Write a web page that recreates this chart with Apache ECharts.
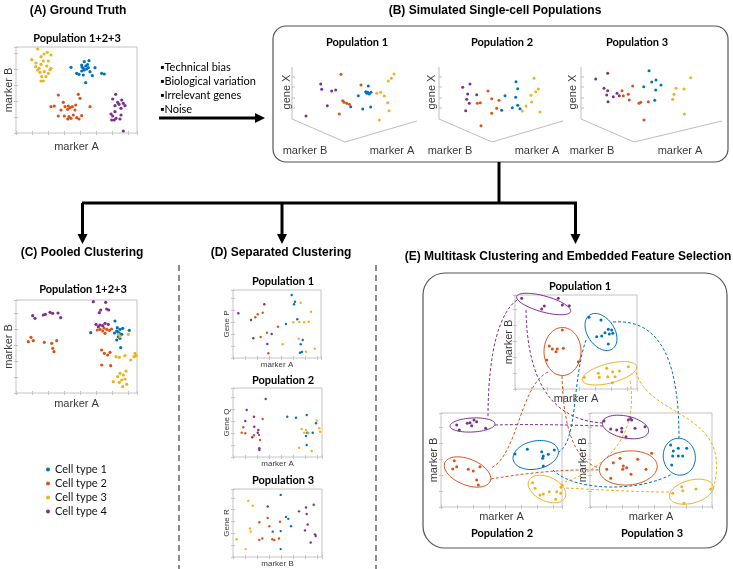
<!DOCTYPE html>
<html><head><meta charset="utf-8">
<script src="https://cdn.jsdelivr.net/npm/echarts/dist/echarts.min.js"></script>
<style>html,body{margin:0;padding:0;background:#fff}#c{width:733px;height:569px}</style>
</head><body><div id="c"></div>
<script>
// ---------- categories ----------
const cellTypes = ['Cell type 1','Cell type 2','Cell type 3','Cell type 4'];
const typeColors = ['#0072BD','#D95319','#EDB120','#7E2F8E'];

// ---------- (A) ground truth ----------
const A_blue = [[55,65.7],[68.3,71.3],[73,72.3],[65.7,68],[69.7,67],[67.3,64.7],[70.7,64],[72.3,65.3],[68.3,63],[79,65.3],[60.7,59.7],[63,58.7],[67.3,58],[76.3,57.3],[85.7,59.7],[88.3,59],[69.7,50.3],[74,61.3],[65.7,62],[71.5,68.5],[66,66]];
const A_orange = [[42.3,38],[62.3,38.7],[64,34.7],[35,26.3],[38.3,27],[47.3,30.7],[49,26.3],[52.3,27],[54,25.3],[51.7,23.7],[56.3,26.3],[59.7,28],[45,23],[59,23],[74,26.3],[42.3,17],[48.3,17],[53,16.3],[57.3,18],[51.7,14],[60.7,15.3],[65.7,17.3],[63,14],[55,14.7]];
const A_yellow = [[21.7,84],[31.3,80.7],[35,78],[15.7,73.3],[25,76.3],[27.3,72],[32.3,72],[25,68.7],[19.7,66.3],[23,64.7],[30.7,67],[35,64.7],[34,63.3],[28.3,61.3],[24,60.7],[32.3,59.7],[25.7,56.3],[30,56.3],[25,52],[27.3,52],[21.7,63],[28,79],[20,70]];
const A_purple = [[99.7,38.7],[96.7,34],[105.7,33],[101.7,30.7],[107.3,29.7],[103,28.7],[109,27.3],[99,27.3],[105,24.7],[99,21.3],[95,19],[96.7,17],[105,18],[100,14.7],[95.7,13],[98.3,13],[104,14],[107.3,2]];

// ---------- (B) simulated populations (projected 3-D) ----------
const B1_blue = [[76.3,61],[66.3,51.3],[73.7,55.3],[74.7,53.7],[75.7,54.7],[77.3,53],[79,54.7],[58.7,40.3],[70.7,38],[78.7,40]];
const B1_orange = [[49,72.7],[69,62],[50.7,46.3],[52,44.7],[54.7,43.7],[57.3,42.7],[47.3,33]];
const B1_yellow = [[84.7,53.7],[88.7,54.7],[92.3,51],[96.3,66],[99.3,68.7],[102,73],[95.7,44.3],[97,36.3],[87.3,27]];
const B1_purple = [[28.7,63],[29.7,57.7],[39.7,56],[43.7,57],[35.3,41.3],[14,31]];
const B2_blue = [[77,65.3],[78.7,58.3],[66,51.3],[76.7,49.7],[78.7,41.7],[73.3,39.3],[81,38.3],[62.7,36.7]];
const B2_orange = [[49,56],[52.7,48.3],[38.3,43.7],[41.3,44.3],[60,46.7],[57.7,38.7],[52.7,33.7],[42,21.3]];
const B2_yellow = [[95,68.7],[99.3,58],[96.7,55.3],[92,51.7],[92.7,45],[87,41],[83.3,36],[101,35]];
const B2_purple = [[23.7,59.7],[31,63],[28.7,53],[27.7,47.7],[30.3,43.7],[26.7,36.3],[37.7,52.3]];
const B3_blue = [[68,76.3],[70.7,65],[75,67],[80,62],[62.7,60.3],[74.7,57],[73.7,46.7]];
const B3_orange = [[41,56.3],[42.3,51.3],[47.3,52.7],[51.7,61],[48.3,47],[58,43.7],[59.7,44.7],[67.3,45.3],[63,27]];
const B3_yellow = [[109.7,69.3],[95,58.7],[103,58],[93,52.7],[91.7,47.7],[103.3,33]];
const B3_purple = [[14.7,68],[26.7,73.7],[23,58.7],[26.7,56.3],[25.7,52],[27,45.3],[32.3,50.3],[36,53.7],[38.3,51.3]];

// ---------- (C) pooled clustering ----------
const C_blue = [[74.7,60.3],[99,72],[101.3,65.3],[104,63.7],[106.7,64.7],[100.7,62],[103.3,59.7],[105.7,58.7],[102.3,56.3],[100.7,53],[104,54.7],[113.3,62.7],[104.7,45.3],[102,61],[98.5,60]];
const C_orange = [[12.3,51.3],[15,55.7],[17.3,52.3],[28.3,50.7],[35.7,49.7],[40.7,52.3],[36.7,44.7],[38,41.3],[81.3,63],[84,63.7],[86.7,62],[90.7,63.7],[93.3,62.7],[89,59.7],[85.7,43],[88.3,39.7],[91.7,38],[85.7,28],[94.7,27.3],[94,40.7],[95.5,64],[88,65]];
const C_yellow = [[102.3,58.7],[104,56.3],[112.3,58.7],[100,36.3],[103.3,35.7],[109,37.3],[114.7,33],[119,39.7],[120,37.3],[118,36.3],[101.7,16.3],[104,19.7],[107.3,18],[110,22],[105.7,13],[109,14],[97.3,11.3],[103.3,10.7],[110.7,8.7],[106.7,6.3]];
const C_purple = [[16.7,77.3],[19,74.7],[27.3,78],[29.3,78.7],[34,80.7],[36.7,79.7],[44.7,75.3],[77.3,91.3],[89.7,90.7],[84.7,83],[83.3,80.3],[90.7,84],[92.7,83],[80,68.7],[84,68],[86.7,67.3],[89,69.7],[92.3,68.7],[82.3,66.3],[42,80]];

// ---------- (D) separated clustering ----------
const D1_blue = [[58.7,63],[62,56.3],[61,53.7],[64.3,38.7],[53,34],[69.7,18],[67.7,13.7],[67,5.3],[69,6]];
const D1_orange = [[29.7,45.3],[24.7,43.7],[22.3,40.7],[45,31.3],[27.7,21],[34,25.3],[35.3,4.7]];
const D1_yellow = [[67.7,55.3],[60.3,35.7],[66.3,36],[75.7,36.3],[71,35.7],[78,46.3],[65.7,19.3],[49.7,13.7],[81.7,9.3],[73,6.3]];
const D1_purple = [[31.3,53.7],[5.3,44.7],[18,38],[20.3,19.7],[38.7,24],[34.3,14]];
const D2_blue = [[54.3,40.3],[63,39.3],[73.7,42],[83,33.7],[79.7,24.3],[74.3,24.3],[73,21],[73.7,12]];
const D2_orange = [[29.7,38],[10.3,29.7],[8.7,24.3],[12.3,23.7],[26,22],[21,21.7],[27,17]];
const D2_yellow = [[83.7,36.3],[68.7,28],[73,27],[71.3,24.3],[75.3,23.7],[86.3,28.7],[87,25.3],[66,9.3],[78.7,6]];
const D2_purple = [[32.7,58],[13.7,47],[21,40.3],[12.3,36],[21.3,30.3],[25.3,27],[24.7,24.3],[19.3,19.7],[26.3,8.7],[26.3,7]];
const D3_blue = [[47.7,63],[53,40.7],[55.3,38.7],[58,31.3],[39.7,25.7],[47.7,26.3],[47.7,8]];
const D3_orange = [[34.7,39.7],[26.3,35.3],[36.3,31.3],[47,35.7],[26.3,17.3],[29.3,18.7],[39.3,18],[41.3,17.3],[46,18.7]];
const D3_yellow = [[15.3,57],[19.7,52],[17,29],[17.7,25.7],[3.7,18],[12.7,8]];
const D3_purple = [[34.7,51.3],[66,46.3],[73,50.3],[80.7,53],[73.7,43.7],[74.7,33],[72,27],[82,23],[82.7,21.3],[77.7,14.7]];

// ---------- (E) multitask clustering ----------
const E1_blue = [[74,71.7],[86,69],[93.3,59.7],[96.7,59],[90,56.3],[86.7,53],[81.7,52.3],[94.3,55],[97.7,55.7],[93.3,45]];
const E1_orange = [[47.3,59],[34.3,43],[37.3,40],[42.3,40],[48.3,40.7],[31.7,29],[63.3,27.3],[41,37.3]];
const E1_yellow = [[69.3,11.7],[83.3,15.7],[91.7,20.7],[97.7,17.3],[104.3,18],[113.3,22.3],[84.3,11.7],[92.7,12.3],[100,12.3],[97.3,6.3]];
const E1_purple = [[6.7,90.7],[29.3,83],[26.7,80],[43.3,90.7],[47.3,84],[54.3,83.3]];
const E2_blue = [[74,53],[86.3,57.7],[100.7,55.3],[102.3,51],[101.7,48.7],[107.3,52.7],[113.3,57],[102.3,41]];
const E2_orange = [[13.3,46.3],[11.7,38],[15.7,40.3],[27.3,37.7],[32.3,36],[39,40.3],[35.7,27],[37.3,22]];
const E2_yellow = [[91.7,24.3],[94,18.7],[99,12],[102.3,13],[108.3,15.3],[115.7,15.3],[114.7,7.7],[120,19.7],[119.7,13.7],[121.3,22]];
const E2_purple = [[15.7,82],[18.3,77],[26.3,83.7],[29,84.3],[33,87],[35.7,85.3],[30.7,81.3],[44.7,78.7]];
const E3_blue = [[80.7,62],[83.3,56],[88.3,58.7],[96.7,58.7],[82.7,51],[88.3,51],[92.7,51],[81.7,42]];
const E3_orange = [[16.7,37.7],[23.3,44.3],[30,48.7],[33.3,41],[36.7,39.3],[32.7,37.7],[41,32.7],[47.7,47.7],[56,37.7],[20.7,28.7],[61.7,53.7]];
const E3_yellow = [[82.7,13.7],[91.7,20.3],[92.7,16.3],[106,18],[120.7,18],[94,3.7]];
const E3_purple = [[14,86],[20.7,78],[26.7,77],[31.7,78.7],[31.7,75.3],[38.3,87],[40,88.7],[41.7,87],[36,70.3],[45,78.7],[55,80.3]];

// ---------- layout ----------
const FT = '"Liberation Sans", Arial, sans-serif';
const FC = 'Lato, "Noto Sans", sans-serif';
const layout = [
  {id:'A',  left:16,  top:47,  w:121, h:86, framed:true, tick:16, xName:'marker A', yName:'marker B', xGap:8, yGap:2, fs:11, size:3.2, sets:[A_blue,A_orange,A_yellow,A_purple]},
  {id:'C',  left:16,  top:300, w:121, h:93, framed:true, tick:16, xName:'marker A', yName:'marker B', xGap:5, yGap:2, fs:11, size:3.2, sets:[C_blue,C_orange,C_yellow,C_purple]},
  {id:'D1', left:233, top:290, w:88,  h:68, framed:true, tick:12, xName:'marker A', yName:'Gene P', xGap:3, yGap:2, fs:8, size:2.4, sets:[D1_blue,D1_orange,D1_yellow,D1_purple]},
  {id:'D2', left:233, top:388, w:89,  h:69, framed:true, tick:12, xName:'marker A', yName:'Gene Q', xGap:3, yGap:2, fs:8, size:2.4, sets:[D2_blue,D2_orange,D2_yellow,D2_purple]},
  {id:'D3', left:233, top:489, w:89,  h:69, framed:true, tick:12, xName:'marker B', yName:'Gene R', xGap:3, yGap:2, fs:8, size:2.4, sets:[D3_blue,D3_orange,D3_yellow,D3_purple]},
  {id:'E1', left:515, top:295, w:122, h:94, framed:true, tick:16, xName:'marker A', yName:'marker B', xGap:4, yGap:1, fs:11, size:3, sets:[E1_blue,E1_orange,E1_yellow,E1_purple]},
  {id:'E2', left:441, top:413, w:121, h:94, framed:true, tick:16, xName:'marker A', yName:'marker B', xGap:4, yGap:2, fs:11, size:3, sets:[E2_blue,E2_orange,E2_yellow,E2_purple]},
  {id:'E3', left:590, top:413, w:122, h:94, framed:true, tick:16, xName:'marker A', yName:'marker B', xGap:4, yGap:2, fs:11, size:3, sets:[E3_blue,E3_orange,E3_yellow,E3_purple]},
  {id:'B1', left:292, top:67,  w:130, h:80, framed:false, size:3, sets:[B1_blue,B1_orange,B1_yellow,B1_purple]},
  {id:'B2', left:439, top:67,  w:130, h:80, framed:false, size:3, sets:[B2_blue,B2_orange,B2_yellow,B2_purple]},
  {id:'B3', left:581, top:67,  w:140, h:80, framed:false, size:3, sets:[B3_blue,B3_orange,B3_yellow,B3_purple]}
];

const grids=[], xAxes=[], yAxes=[], series=[];
layout.forEach((p,gi)=>{
  grids.push({left:p.left, top:p.top, width:p.w, height:p.h, show:p.framed, borderColor:'#c4c4c4', borderWidth:1, backgroundColor:'transparent', containLabel:false});
  const tk = {show:p.framed, inside:true, length:2, lineStyle:{color:'#c4c4c4'}};
  const nameStyle = {fontFamily:FT, fontSize:p.fs||11, color:'#3a3a3a'};
  const xi = xAxes.length, yi = yAxes.length;
  xAxes.push({gridIndex:gi, type:'value', min:0, max:p.w, interval:p.tick||20, position:'bottom', show:true,
    axisLine:{show:false}, axisTick:tk, axisLabel:{show:false}, splitLine:{show:false},
    name:p.xName||'', nameLocation:'middle', nameGap:p.xGap||0, nameTextStyle:Object.assign({verticalAlign:'top'},nameStyle)});
  yAxes.push({gridIndex:gi, type:'value', min:0, max:p.h, interval:p.tick||20, position:'left', show:true,
    axisLine:{show:false}, axisTick:tk, axisLabel:{show:false}, splitLine:{show:false},
    name:p.yName||'', nameLocation:'middle', nameGap:p.yGap||0, nameRotate:90, nameTextStyle:Object.assign({verticalAlign:'bottom'},nameStyle)});
  if (p.framed) {
    xAxes.push({gridIndex:gi, type:'value', min:0, max:p.w, interval:p.tick, position:'top', axisLine:{show:false}, axisTick:tk, axisLabel:{show:false}, splitLine:{show:false}});
    yAxes.push({gridIndex:gi, type:'value', min:0, max:p.h, interval:p.tick, position:'right', axisLine:{show:false}, axisTick:tk, axisLabel:{show:false}, splitLine:{show:false}});
  }
  p.sets.forEach((d,k)=>{
    series.push({type:'scatter', name:cellTypes[k], xAxisIndex:xi, yAxisIndex:yi, data:d, symbol:'circle', symbolSize:p.size,
      itemStyle:{color:typeColors[k], opacity:1}, clip:false, silent:true, z:5});
  });
});

// ---------- decorations ----------
const G=[];
function txt(x,y,s,font,fill,align,rot){
  G.push({type:'text', x:x, y:y, rotation:rot||0, z:20,
    style:{text:s, x:0, y:0, font:font, fill:fill||'#000', textAlign:align||'center', textVerticalAlign:'middle', align:align||'center', verticalAlign:'middle'}});
}
function line(pts,w,col,dash){
  G.push({type:'polyline', z:15, shape:{points:pts}, style:{stroke:col||'#000', lineWidth:w||1, fill:null, lineDash:dash||null}});
}
function arrow(x1,y1,x2,y2){
  const dx=x2-x1, dy=y2-y1, L=Math.hypot(dx,dy), ux=dx/L, uy=dy/L, hl=10, hw=5;
  const bx=x2-ux*hl, by=y2-uy*hl;
  line([[x1,y1],[bx,by]],3,'#000');
  G.push({type:'polygon', z:15, shape:{points:[[x2,y2],[bx-uy*hw,by+ux*hw],[bx+uy*hw,by-ux*hw]]}, style:{fill:'#000'}});
}
function ellipse(cx,cy,a,b,deg,col){
  const t=deg*Math.PI/180, pts=[];
  for(let i=0;i<64;i++){const u=i/64*2*Math.PI;
    pts.push([cx+a*Math.cos(u)*Math.cos(t)-b*Math.sin(u)*Math.sin(t), cy+a*Math.cos(u)*Math.sin(t)+b*Math.sin(u)*Math.cos(t)]);}
  G.push({type:'polygon', z:16, shape:{points:pts}, style:{stroke:col, lineWidth:1, fill:null}});
}
function bez(p,col){
  G.push({type:'bezierCurve', z:14, shape:{x1:p[0],y1:p[1],cpx1:p[2],cpy1:p[3],cpx2:p[4],cpy2:p[5],x2:p[6],y2:p[7]},
    style:{stroke:col, lineWidth:1, fill:null, lineDash:[3,2]}});
}
const B_= 'bold 12px '+FT, P_='bold 11px '+FC;
// panel titles
txt(78,11,'(A) Ground Truth',B_);
txt(495,11,'(B) Simulated Single-cell Populations',B_);
txt(82,253,'(C) Pooled Clustering',B_);
txt(281,253,'(D) Separated Clustering',B_);
txt(568,257,'(E) Multitask Clustering and Embedded Feature Selection',B_);
// population titles
txt(77,38,'Population 1+2+3',P_);
txt(83,289,'Population 1+2+3',P_);
txt(357,42,'Population 1',P_); txt(502,42,'Population 2',P_); txt(637,42,'Population 3',P_);
txt(283,281,'Population 1',P_); txt(283,380,'Population 2',P_); txt(283,480,'Population 3',P_);
txt(580,286,'Population 1',P_); txt(502,533,'Population 2',P_); txt(652,533,'Population 3',P_);
// bullets
const bullets=['▪Technical bias','▪Biological variation','▪Irrelevant genes','▪Noise'];
[67,81,95,109].forEach((y,i)=>txt(160,y,bullets[i],'11px '+FC,'#000','left'));
// arrows & connectors
arrow(159,118,265,118);
line([[499,162],[499,203]],3,'#000');
line([[82,203],[577,203]],3,'#000');
arrow(82.5,203,82.5,244); arrow(282,203,282,244); arrow(575.5,203,575.5,244);
// rounded boxes
G.push({type:'rect', z:12, shape:{x:273,y:26,width:455,height:136,r:13}, style:{stroke:'#555',lineWidth:1.2,fill:null}});
G.push({type:'rect', z:12, shape:{x:423,y:273,width:304,height:275,r:22}, style:{stroke:'#555',lineWidth:1.2,fill:null}});
// dashed separators
line([[179,265],[179,569]],1.5,'#666',[6,4]);
line([[376,265],[376,569]],1.5,'#666',[6,4]);
// B: 3D axes
[[292,417,287,305,392],[439,563,432,450,537],[581,722,573,592,680]].forEach(a=>{
  const x0=a[0];
  line([[x0,67],[x0,119],[x0+53,142],[a[1],121]],1,'#bdbdbd');
  [77,87,98,108].forEach(y=>line([[x0,y],[x0+3,y]],1,'#bdbdbd'));
  txt(a[2],92,'gene X','11px '+FT,'#3a3a3a','center',Math.PI/2);
  txt(a[3],151,'marker B','11px '+FT,'#3a3a3a');
  txt(a[4],151,'marker A','11px '+FT,'#3a3a3a');
});
// E: ellipses
const [cb,co,cy_,cp]=typeColors;
ellipse(543.7,304,28,8,15.5,cp); ellipse(562.5,351.5,18.5,24,0,co); ellipse(601,332,20.4,13.5,56,cb); ellipse(609.5,373.3,28,9.7,-14.5,cy_);
ellipse(472.5,425,22.5,7,-3,cp); ellipse(467.5,472,24.5,13,22,co); ellipse(535.7,455,23,14,-12,cb); ellipse(547,489,20,12,25,cy_);
ellipse(625.5,427,23.5,11,12,cp); ellipse(628.3,468,29,17,-5,co); ellipse(679.3,456.7,18.5,16,80,cb); ellipse(691.3,491.7,22.5,11.5,-15,cy_);
// E: dashed links
bez([517,300,500,312,488,350,488,418],cp); bez([526,310,527,370,545,420,603,423],cp); bez([495,425,530,424,570,425,603,426],cp);
bez([548,372,520,385,518,455,491,468],co); bez([562,376,563,420,572,462,600,468],co); bez([491,479,525,473,565,469,600,470],co);
bez([613,322,665,318,679,370,679,438],cb); bez([586,340,572,380,578,440,559,452],cb); bez([553,470,575,492,640,492,672,474],cb);
bez([636,372,650,420,735,410,713,490],cy_); bez([630,381,640,440,600,470,565,482],cy_); bez([566,488,600,490,640,492,669,492],cy_);

const chart = echarts.init(document.getElementById('c'), null, {renderer:'canvas'});
chart.setOption({
  animation:false, backgroundColor:'#fff',
  grid:grids, xAxis:xAxes, yAxis:yAxes, series:series,
  legend:{data:cellTypes, orient:'vertical', left:41, top:458, itemWidth:4, itemHeight:4, itemGap:1, icon:'circle', selectedMode:false,
    textStyle:{fontFamily:FC, fontSize:11, color:'#111', lineHeight:13}},
  graphic:{elements:G}
});
</script></body></html>
